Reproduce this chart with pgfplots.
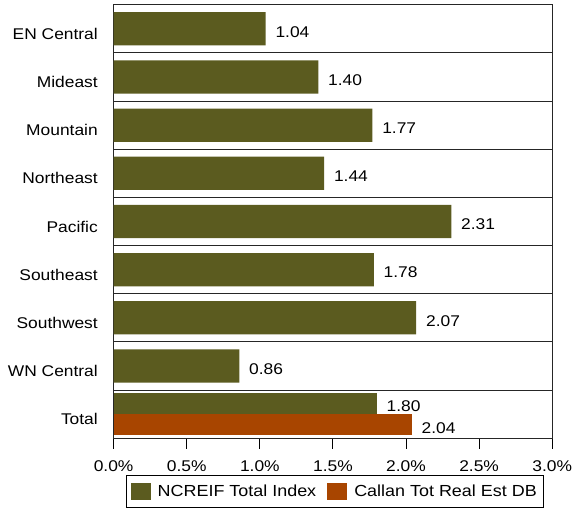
\documentclass[border=0pt]{standalone}
\usepackage{fontspec}
\setmainfont{Liberation Sans}[FakeStretch=1.12]
\usepackage{pgfplots}
\pgfplotsset{compat=1.18}
\definecolor{olivebar}{RGB}{91,91,31}
\definecolor{orangebar}{RGB}{168,69,0}
\begin{document}
\fontsize{15.5bp}{18bp}\selectfont
\begin{tikzpicture}
\begin{axis}[
  scale only axis,
  width=438bp, height=433bp,
  xmin=0, xmax=3,
  ymin=-0.5, ymax=8.5,
  y dir=reverse,
  xbar, bar shift=0pt,
  /pgf/number format/assume math mode=true,
  xtick={0,0.5,...,3},
  xticklabel={\pgfmathprintnumber[fixed,fixed zerofill,precision=1]{\tick}\%},
  xtick pos=bottom,
  tick align=outside,
  major tick length=10.5bp,
  xtick style={draw=black, line width=1bp},
  xticklabel style={yshift=-7bp, inner xsep=1bp},
  ytick={0,...,8},
  yticklabels={EN Central,Mideast,Mountain,Northeast,Pacific,Southeast,Southwest,WN Central,Total},
  ytick style={draw=none},
  yticklabel style={yshift=-5bp},
  minor ytick={0.5,1.5,...,7.5},
  yminorgrids=true,
  minor tick length=0pt,
  minor grid style={draw=black!85, line width=1bp},
  axis line style={draw=black!85, line width=1bp},
  point meta=x,
  nodes near coords={\pgfmathprintnumber[fixed,fixed zerofill,precision=2]{\pgfplotspointmeta}},
  nodes near coords style={anchor=west, xshift=4.5bp, yshift=-3bp, text=black},
  legend style={at={(0.0285,-0.085)}, anchor=north west, draw=black, line width=1bp,
    inner xsep=4bp, inner ysep=6bp,
    font=\fontsize{16bp}{18bp}\selectfont,
    nodes={inner sep=3bp},
    /tikz/every odd column/.append style={column sep=4bp},
    /tikz/every even column/.append style={column sep=8bp}},
  legend columns=2,
  legend image code/.code={\fill[#1] (0bp,-8.5bp) rectangle (20bp,8.5bp);},
  clip=false,
]
\addplot[fill=olivebar, draw=none, bar width=0.69] coordinates {
  (1.04,0) (1.40,1) (1.77,2) (1.44,3) (2.31,4) (1.78,5) (2.07,6) (0.86,7)
};
\addlegendentry{NCREIF Total Index}
\addplot[fill=orangebar, draw=none, bar width=0.44] coordinates {(2.04,8.22)};
\addlegendentry{Callan Tot Real Est DB\hspace{5bp}}
\addplot[fill=olivebar, draw=none, bar width=0.44, forget plot] coordinates {(1.80,7.78)};
\end{axis}
\path (current axis.north) ++(0,4.7bp);
\path ([xshift=-113.5bp]current axis.south west);
\end{tikzpicture}
\end{document}
